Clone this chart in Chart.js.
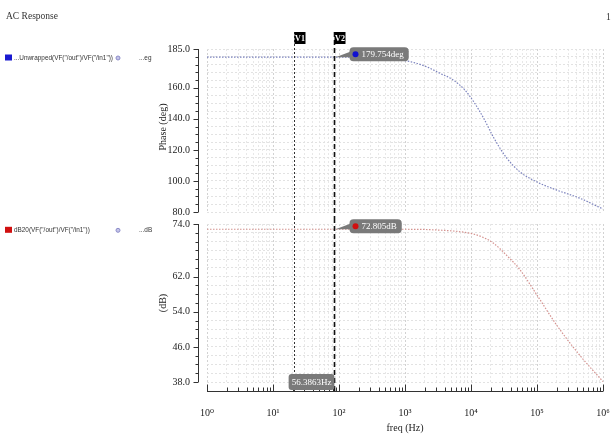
<!DOCTYPE html>
<html lang="en">
<head>
<meta charset="UTF-8" />
<title>AC Response</title>
<script src="https://cdn.jsdelivr.net/npm/chart.js"></script>
<style>
  body { margin: 0; background: #fff; }
  canvas { display: block; }
</style>
</head>
<body>
<canvas id="fase" width="614" height="218"></canvas>
<canvas id="mag" width="614" height="219"></canvas>
<script>
// datos
const freqs    = [1, 10, 100, 1000, 2000, 3400, 5400, 8100, 11000, 15500, 22000, 35000, 55000, 98000, 200000, 450000, 1000000];
const phaseDeg = [179.754, 179.754, 179.75, 177.5, 174.0, 169.3, 165.0, 158.5, 151.0, 140.5, 128.0, 114.6, 105.9, 99.5, 94.1, 88.8, 81.9];
const magDb    = [72.805, 72.805, 72.805, 72.8, 72.75, 72.6, 72.4, 72.1, 71.7, 70.9, 69.6, 66.8, 63.6, 58.0, 50.9, 44.0, 38.1];
const phaseTicks = [185, 160, 140, 120, 100, 80];
const magTicks = [74, 62, 54, 46, 38];
const decades = [1, 10, 100, 1000, 10000, 100000, 1000000];
const cursorV1 = 21;
const cursorV2 = 84;
const readout = [179.754, 72.805];
const deltaText = '56.3863Hz';

const sup = ['⁰', '¹', '²', '³', '⁴', '⁵', '⁶'];
const serif = '"Liberation Serif", "DejaVu Serif", serif';
Chart.defaults.font.family = serif;
Chart.defaults.font.size = 10;
Chart.defaults.color = '#222';

const xGrid = [];
decades.slice(0, -1).forEach(d => { for (let m = 1; m <= 9; m++) xGrid.push(m * d); });
xGrid.push(1e6);

function line(ctx, x1, y1, x2, y2) {
  ctx.beginPath(); ctx.moveTo(x1, y1); ctx.lineTo(x2, y2); ctx.stroke();
}

function yAxis(chart, labelled) {
  const { ctx, chartArea: a } = chart;
  const ys = chart.scales.y;
  const ax = a.left - 8.5;
  ctx.save();
  ctx.strokeStyle = '#333'; ctx.lineWidth = 1;
  line(ctx, ax, a.top, ax, a.bottom);
  ys.ticks.forEach(t => {
    const py = Math.round(ys.getPixelForValue(t.value)) + .5;
    line(ctx, ax - (labelled.includes(t.value) ? 5 : 3), py, ax, py);
  });
  ctx.restore();
}

function cursors(chart, y0, y1) {
  const ctx = chart.ctx, xs = chart.scales.x;
  const x1 = Math.round(xs.getPixelForValue(cursorV1)) + .5;
  const x2 = Math.round(xs.getPixelForValue(cursorV2)) + .5;
  ctx.save();
  ctx.strokeStyle = '#333'; ctx.lineWidth = 1; ctx.setLineDash([2, 2]);
  line(ctx, x1, y0, x1, y1);
  ctx.strokeStyle = '#111'; ctx.lineWidth = 1.6; ctx.setLineDash([5, 3]);
  line(ctx, x2, y0, x2, y1);
  ctx.restore();
  return [x1, x2];
}

function callout(ctx, xl, yp, text, dot) {
  ctx.save();
  ctx.font = '9px ' + serif;
  const w = ctx.measureText(text).width + 17;
  const bx = xl + 15, by = yp - 10, h = 14;
  ctx.fillStyle = '#7a7a7a';
  ctx.beginPath(); ctx.moveTo(xl + 1, yp); ctx.lineTo(bx + 2, by + 4); ctx.lineTo(bx + 2, by + 10); ctx.closePath(); ctx.fill();
  ctx.beginPath(); ctx.roundRect(bx, by, w, h, 4); ctx.fill();
  ctx.fillStyle = dot; ctx.beginPath(); ctx.arc(bx + 6, by + 7, 3, 0, Math.PI * 2); ctx.fill();
  ctx.fillStyle = '#fff'; ctx.textBaseline = 'middle'; ctx.fillText(text, bx + 12, by + 7.5);
  ctx.restore();
}

function legendEntry(ctx, y, color, label, unit) {
  ctx.save();
  ctx.fillStyle = color; ctx.fillRect(5, y - 3, 7, 6);
  ctx.font = '6.4px "Liberation Sans", sans-serif'; ctx.fillStyle = '#333'; ctx.textBaseline = 'middle';
  ctx.fillText(label, 14, y + .5);
  ctx.fillText(unit, 139, y + .5);
  ctx.strokeStyle = '#8a8ac8'; ctx.fillStyle = '#c4c4e8';
  ctx.beginPath(); ctx.arc(118, y + .5, 2, 0, Math.PI * 2); ctx.fill(); ctx.stroke();
  ctx.restore();
}

function yTitle(ctx, x, y, text) {
  ctx.save();
  ctx.translate(x, y); ctx.rotate(-Math.PI / 2);
  ctx.font = '10px ' + serif; ctx.fillStyle = '#222';
  ctx.textAlign = 'center'; ctx.textBaseline = 'middle';
  ctx.fillText(text, 0, 0);
  ctx.restore();
}

const topDecor = {
  id: 'topDecor',
  afterDraw(chart) {
    const { ctx } = chart;
    yAxis(chart, phaseTicks);
    const [x1, x2] = cursors(chart, 32, chart.height);
    ctx.save();
    ctx.font = 'bold 8px ' + serif; ctx.textAlign = 'center'; ctx.textBaseline = 'middle';
    [[x1, 'V1'], [x2, 'V2']].forEach(([x, t]) => {
      ctx.fillStyle = '#000'; ctx.fillRect(x, 32, 11, 12);
      ctx.fillStyle = '#fff'; ctx.fillText(t, x + 5.5, 38.5);
    });
    ctx.textAlign = 'left'; ctx.font = '9.5px ' + serif; ctx.fillStyle = '#333';
    ctx.fillText('AC Response', 6, 16);
    ctx.fillText('1', 606, 17);
    ctx.restore();
    callout(ctx, x2, chart.scales.y.getPixelForValue(readout[0]), readout[0].toFixed(3) + 'deg', '#1010d0');
    legendEntry(ctx, 57.5, '#1a1ad0', '...Unwrapped(VF("/out")/VF("/in1"))', '...eg');
    yTitle(ctx, 163, 127, 'Phase (deg)');
  }
};

const bottomDecor = {
  id: 'bottomDecor',
  afterDraw(chart) {
    const { ctx, chartArea: a } = chart;
    const xs = chart.scales.x;
    yAxis(chart, magTicks);
    // eje x separado del area
    const ay = a.bottom + 9.5;
    ctx.save();
    ctx.strokeStyle = '#333'; ctx.lineWidth = 1;
    line(ctx, a.left, ay, a.right, ay);
    xGrid.forEach(v => {
      const px = Math.round(xs.getPixelForValue(v)) + .5;
      line(ctx, px, ay - (decades.includes(v) ? 7 : 4), px, ay);
    });
    ctx.restore();
    const [x1, x2] = cursors(chart, 0, ay);
    callout(ctx, x2, chart.scales.y.getPixelForValue(readout[1]), readout[1].toFixed(3) + 'dB', '#d01010');
    ctx.save();
    ctx.font = '9px ' + serif;
    const w = ctx.measureText(deltaText).width + 6;
    const cx = (x1 + x2) / 2 - 3;
    ctx.fillStyle = '#7a7a7a';
    ctx.beginPath(); ctx.roundRect(cx - w / 2, a.bottom - 8, w, 16, 3); ctx.fill();
    ctx.fillStyle = '#fff'; ctx.textAlign = 'center'; ctx.textBaseline = 'middle';
    ctx.fillText(deltaText, cx, a.bottom + .5);
    ctx.font = '10px ' + serif; ctx.fillStyle = '#222';
    ctx.fillText('freq (Hz)', 405, 210);
    ctx.restore();
    legendEntry(ctx, 11.8, '#d01010', 'dB20(VF("/out")/VF("/in1"))', '...dB');
    yTitle(ctx, 163, 85, '(dB)');
  }
};

function xScale(showLabels) {
  return {
    type: 'logarithmic', min: 1, max: 1e6,
    afterBuildTicks: s => { s.ticks = xGrid.map(v => ({ value: v })); },
    afterFit: s => { s.height = showLabels ? 55 : 0; s.paddingLeft = 0; s.paddingRight = 0; },
    grid: { color: c => decades.includes(c.tick && c.tick.value) ? '#d2d2d2' : '#e8e8e8', drawTicks: false },
    border: { display: false, dash: [2, 2] },
    ticks: {
      display: showLabels, autoSkip: false, maxRotation: 0, padding: 25, color: '#222',
      callback: v => decades.includes(v) ? '10' + sup[decades.indexOf(v)] : ''
    }
  };
}

function yScale(min, max, step, labelled) {
  const vals = [];
  for (let v = min; v <= max; v += step) vals.push(v);
  return {
    min, max,
    afterBuildTicks: s => { s.ticks = vals.map(v => ({ value: v })); },
    afterFit: s => { s.width = 207; s.paddingTop = 0; s.paddingBottom = 0; },
    grid: { color: '#e2e2e2', drawTicks: false },
    border: { display: false, dash: [2, 2] },
    ticks: { padding: 17, autoSkip: false, color: '#222', callback: v => labelled.includes(v) ? v.toFixed(1) : '' }
  };
}

function makeChart(id, values, color, yOpts, showX, pad, plugin) {
  return new Chart(document.getElementById(id), {
    type: 'line',
    data: {
      datasets: [{
        data: freqs.map((f, i) => ({ x: f, y: values[i] })),
        borderColor: color, borderWidth: 1.2, borderDash: [1.5, 1.5],
        pointRadius: 0, cubicInterpolationMode: 'monotone'
      }]
    },
    options: {
      responsive: false, animation: false,
      layout: { padding: pad },
      plugins: { legend: { display: false }, tooltip: { enabled: false } },
      scales: { x: xScale(showX), y: yOpts }
    },
    plugins: [plugin]
  });
}

makeChart('fase', phaseDeg, '#7b82bd', yScale(80, 185, 5, phaseTicks), false,
  { top: 49, bottom: 6, left: 0, right: 11 }, topDecor);
makeChart('mag', magDb, '#d4928f', yScale(38, 74, 2, magTicks), true,
  { top: 6, bottom: 0, left: 0, right: 11 }, bottomDecor);
</script>
</body>
</html>
